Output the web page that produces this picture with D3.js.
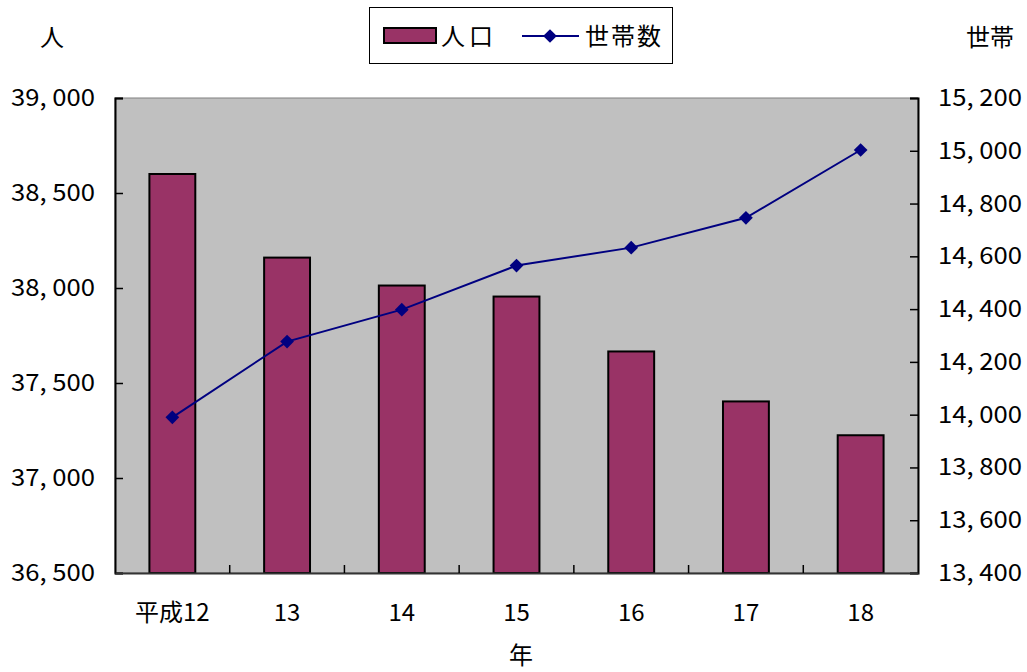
<!DOCTYPE html>
<html><head><meta charset="utf-8">
<script src="https://cdn.jsdelivr.net/npm/d3@7"></script>
<style>
body{margin:0;background:#fff;}
text{font-family:"Noto Sans CJK JP","Noto Sans",sans-serif;fill:#000;}
</style></head>
<body>
<svg id="c" width="1027" height="672"></svg>
<script>
const categories = ["平成12","13","14","15","16","17","18"];
const population = [38600,38160,38013,37955,37666,37403,37225];
const households = [13990,14277,14398,14565,14633,14746,15003];
const leftTicks = [36500,37000,37500,38000,38500,39000];
const rightTicks = [13400,13600,13800,14000,14200,14400,14600,14800,15000,15200];

const svg = d3.select("#c");
const L=115,R=918,T=98,B=573;
const x = d3.scaleBand().domain(categories).range([L,R]).paddingInner(0.6).paddingOuter(0.3);
const xc = d3.scaleBand().domain(categories).range([L,R]);
const yL = d3.scaleLinear().domain([36500,39000]).range([B,T]);
const yR = d3.scaleLinear().domain([13400,15200]).range([B,T]);
const fmt = d => d3.format(",")(d).replace(",", ", ");

svg.append("rect").attr("x",L).attr("y",T).attr("width",R-L).attr("height",B-T)
  .attr("fill","#c0c0c0").attr("stroke","#808080").attr("stroke-width",1);

svg.append("g").selectAll("rect").data(categories).join("rect")
  .attr("x",d=>x(d)).attr("width",x.bandwidth())
  .attr("y",(d,i)=>yL(population[i])).attr("height",(d,i)=>B-yL(population[i]))
  .attr("fill","#993366").attr("stroke","#000").attr("stroke-width",2);

// left axis
const gl = svg.append("g").attr("transform",`translate(${L},0)`)
  .call(d3.axisRight(yL).tickValues(leftTicks).tickSize(8).tickFormat(""));
gl.select(".domain").attr("stroke","#000").attr("stroke-width",2);
gl.selectAll(".tick line").attr("stroke","#000").attr("stroke-width",1.5);
svg.append("g").selectAll("text").data(leftTicks).join("text")
  .attr("x",95).attr("y",d=>yL(d)+8).attr("text-anchor","end")
  .attr("font-size",24).attr("textLength",84).attr("lengthAdjust","spacingAndGlyphs").text(fmt);

// right axis
const gr = svg.append("g").attr("transform",`translate(${R},0)`)
  .call(d3.axisLeft(yR).tickValues(rightTicks).tickSize(8).tickFormat(""));
gr.select(".domain").attr("stroke","#000").attr("stroke-width",2);
gr.selectAll(".tick line").attr("stroke","#000").attr("stroke-width",1.5);
svg.append("g").selectAll("text").data(rightTicks).join("text")
  .attr("x",938).attr("y",d=>yR(d)+8).attr("text-anchor","start")
  .attr("font-size",24).attr("textLength",84).attr("lengthAdjust","spacingAndGlyphs").text(fmt);

// bottom axis
const gb = svg.append("g").attr("transform",`translate(0,${B})`)
  .call(d3.axisTop(xc).tickSize(0).tickFormat(""));
gb.select(".domain").attr("stroke","#333").attr("stroke-width",2);
svg.append("g").selectAll("line").data(categories.slice(1)).join("line")
  .attr("x1",d=>xc(d)).attr("x2",d=>xc(d)).attr("y1",B).attr("y2",B-8)
  .attr("stroke","#000").attr("stroke-width",1.5);
svg.append("g").selectAll("text").data(categories).join("text")
  .attr("x",d=>xc(d)+xc.bandwidth()/2).attr("y",621).attr("text-anchor","middle")
  .attr("font-size",24).text(d=>d);

// line
const line = d3.line().x((d,i)=>xc(categories[i])+xc.bandwidth()/2).y(d=>yR(d));
svg.append("path").datum(households).attr("d",line).attr("fill","none")
  .attr("stroke","#000080").attr("stroke-width",2);
svg.append("g").selectAll("path").data(households).join("path")
  .attr("d",d3.symbol(d3.symbolDiamond2,120))
  .attr("transform",(d,i)=>`translate(${xc(categories[i])+xc.bandwidth()/2},${yR(d)})`)
  .attr("fill","#000080");

// titles
svg.append("text").attr("x",52).attr("y",46).attr("text-anchor","middle").attr("font-size",24).text("人");
svg.append("text").attr("x",990).attr("y",46).attr("text-anchor","middle").attr("font-size",24).text("世帯");
svg.append("text").attr("x",521).attr("y",664).attr("text-anchor","middle").attr("font-size",24).text("年");

// legend
const lg = svg.append("g");
lg.append("rect").attr("x",369.5).attr("y",7.5).attr("width",303).attr("height",56)
  .attr("fill","#fff").attr("stroke","#000").attr("stroke-width",1);
lg.append("rect").attr("x",384).attr("y",28).attr("width",52).attr("height",15)
  .attr("fill","#993366").attr("stroke","#000").attr("stroke-width",2);
lg.append("text").attr("x",441).attr("y",45).attr("font-size",24).attr("letter-spacing",4).text("人口");
lg.append("line").attr("x1",522).attr("x2",579).attr("y1",36).attr("y2",36)
  .attr("stroke","#000080").attr("stroke-width",2);
lg.append("path").attr("d",d3.symbol(d3.symbolDiamond2,120)).attr("transform","translate(550,36)").attr("fill","#000080");
lg.append("text").attr("x",585).attr("y",45).attr("font-size",24).attr("letter-spacing",2).text("世帯数");
</script>
</body></html>
